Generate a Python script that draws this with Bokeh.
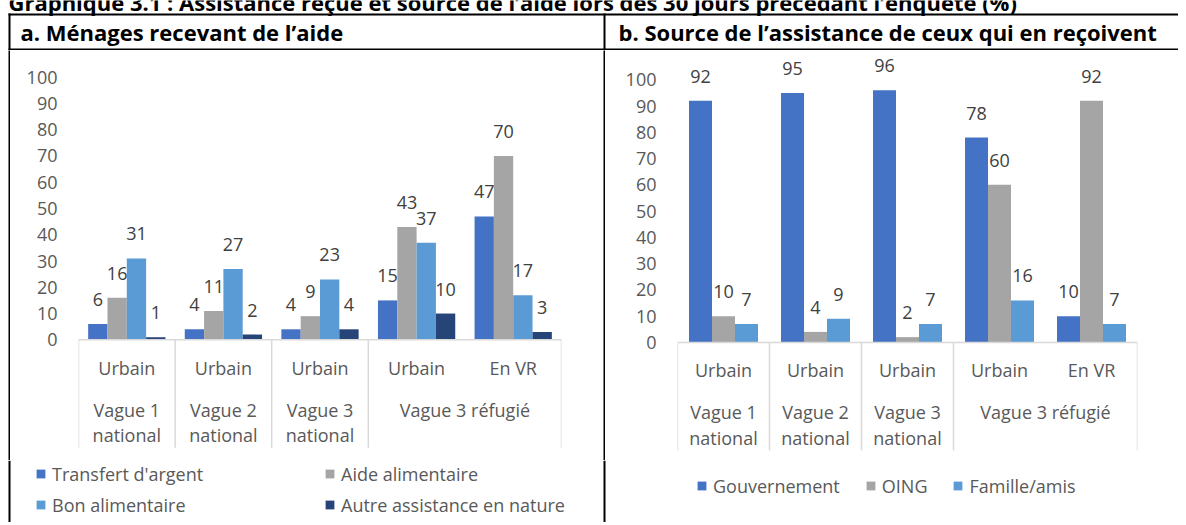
from bokeh.plotting import figure
from bokeh.models import (FactorRange, Range1d, ColumnDataSource, Legend, LegendItem,
                          FixedTicker, Spacer)
from bokeh.transform import dodge
from bokeh.layouts import column, row
from bokeh.core.properties import value
from bokeh.embed import file_html
from bokeh.resources import INLINE

# ---------------- data ----------------
title = "Graphique 3.1 : Assistance reçue et source de l’aide lors des 30 jours précédant l’enquête (%)"
header_a = "a. Ménages recevant de l’aide"
header_b = "b. Source de l’assistance de ceux qui en reçoivent"

groups = ["Vague 1 national", "Vague 2 national", "Vague 3 national", "Vague 3 réfugié"]
group_line1 = ["Vague 1", "Vague 2", "Vague 3", "Vague 3 réfugié"]
group_line2 = ["national", "national", "national", ""]
categories = [
    ("Vague 1 national", "Urbain"),
    ("Vague 2 national", "Urbain"),
    ("Vague 3 national", "Urbain"),
    ("Vague 3 réfugié", "Urbain"),
    ("Vague 3 réfugié", "En VR"),
]
y_ticks = [0, 10, 20, 30, 40, 50, 60, 70, 80, 90, 100]

a_series = ["Transfert d'argent", "Aide alimentaire", "Bon alimentaire", "Autre assistance en nature"]
transfert = [6, 4, 4, 15, 47]
aide = [16, 11, 9, 43, 70]
bon = [31, 27, 23, 37, 17]
autre = [1, 2, 4, 10, 3]
a_colors = ["#4472C4", "#A5A5A5", "#5B9BD5", "#264478"]

b_series = ["Gouvernement", "OING", "Famille/amis"]
gouvernement = [92, 95, 96, 78, 10]
oing = [10, 4, 2, 60, 92]
famille = [7, 9, 7, 16, 7]
b_colors = ["#4472C4", "#A5A5A5", "#5B9BD5"]

# ---------------- style / layout ----------------
FONT = "Open Sans"
TXT = "#595959"
LBL = "#404040"
SEP = "#D9D9D9"
FS = "18px"
HFS = "22px"

W = 1178          # stays inside the 1186 px window
HDR_H = 50
CHART_H = 410
LEG_H = 62        # total height 522, inside the 525 px window


def base_fig(width, height, left=0, right=0, top=0, bottom=0, **kw):
    return figure(width=width, height=height, output_backend="svg",
                  toolbar_location=None, outline_line_color=None,
                  min_border=0, min_border_left=left, min_border_right=right,
                  min_border_top=top, min_border_bottom=bottom,
                  background_fill_color="white", border_fill_color="white", **kw)


def make_chart(width, frame_left, frame_right, zero_px, hundred_px, names, series, colors):
    ppu = (zero_px - hundred_px) / 100.0
    y_start = -(CHART_H - zero_px) / ppu
    y_end = zero_px / ppu
    xr = FactorRange(factors=categories, factor_padding=0, group_padding=0,
                     subgroup_padding=0, range_padding=0)
    p = base_fig(width, CHART_H, left=frame_left, right=width - frame_right,
                 x_range=xr, y_range=Range1d(y_start, y_end), x_axis_type=None)
    p.ygrid.grid_line_color = None
    ax = p.yaxis[0]
    ax.ticker = FixedTicker(ticks=y_ticks)
    ax.bounds = (0, 100)
    ax.axis_line_color = None
    ax.major_tick_line_color = None
    ax.minor_tick_line_color = None
    ax.major_tick_out = 0
    ax.major_tick_in = 0
    ax.minor_tick_out = 0
    ax.major_label_standoff = 21
    ax.major_label_text_font = FONT
    ax.major_label_text_font_size = FS
    ax.major_label_text_color = TXT

    n = len(names)
    bw = 1.0 / (n + 1)
    data = dict(x=categories)
    for i, vals in enumerate(series):
        data[f"s{i}"] = vals
        data[f"l{i}"] = [str(v) for v in vals]
    src = ColumnDataSource(data)

    for i, col in enumerate(colors):
        off = (i - (n - 1) / 2.0) * bw
        p.vbar(x=dodge("x", off, range=xr), top=f"s{i}", width=bw, source=src,
               fill_color=col, line_color=None)
        p.text(x=dodge("x", off, range=xr), y=f"s{i}", text=f"l{i}", source=src,
               text_align="center", text_baseline="middle", y_offset=-24.5,
               text_font=value(FONT), text_font_size=FS, text_color=LBL)

    # category axis drawn on the factor range
    seps = []
    for g in groups:
        first = [c for c in categories if c[0] == g][0]
        seps.append((first[0], first[1], -0.5))
    seps.append((categories[-1][0], categories[-1][1], 0.5))
    sep_src = ColumnDataSource(dict(x=seps, y0=[0] * len(seps), y1=[-108 / ppu] * len(seps)))
    p.segment(x0="x", y0="y0", x1="x", y1="y1", source=sep_src,
              line_color=SEP, line_width=1.5)
    p.segment(x0=[(categories[0][0], categories[0][1], -0.5)], y0=[0],
              x1=[(categories[-1][0], categories[-1][1], 0.5)], y1=[0],
              line_color=SEP, line_width=1.5)

    cat_src = ColumnDataSource(dict(x=categories, t=[c[1] for c in categories]))
    p.text(x="x", y=0, text="t", source=cat_src, y_offset=27.7,
           text_align="center", text_baseline="middle",
           text_font=value(FONT), text_font_size=FS, text_color=TXT)
    grp_src = ColumnDataSource(dict(x=groups, l1=group_line1, l2=group_line2))
    p.text(x="x", y=0, text="l1", source=grp_src, y_offset=70,
           text_align="center", text_baseline="middle",
           text_font=value(FONT), text_font_size=FS, text_color=TXT)
    p.text(x="x", y=0, text="l2", source=grp_src, y_offset=95.3,
           text_align="center", text_baseline="middle",
           text_font=value(FONT), text_font_size=FS, text_color=TXT)
    return p


# header band (title cut at top, table rules, panel titles)
hdr = base_fig(W, HDR_H, x_range=Range1d(0, W), y_range=Range1d(HDR_H, 0),
               x_axis_type=None, y_axis_type=None)
hdr.segment(x0=[8, 8, 9, 604], y0=[14, 49, 13, 13], x1=[W, W, 9, 604], y1=[14, 49, HDR_H, HDR_H],
            line_color="black", line_width=2)
hdr.text(x=[8], y=[1], text=[title], text_baseline="alphabetic",
         text_font=value(FONT), text_font_style="bold", text_font_size=HFS, text_color="black")
hdr.text(x=[20, 618], y=[31, 31], text=[header_a, header_b], text_baseline="middle",
         text_font=value(FONT), text_font_style="bold", text_font_size=HFS, text_color="black")


def vline():
    return figure(width=2, height=CHART_H, x_axis_type=None, y_axis_type=None,
                  output_backend="svg", toolbar_location=None, min_border=0,
                  outline_line_color=None, background_fill_color="black",
                  border_fill_color="black")


c1 = make_chart(593, 68, 551, 289.3, 26.7, a_series, [transfert, aide, bon, autre], a_colors)
c2 = make_chart(573, 72, 532, 291.9, 29.3, b_series, [gouvernement, oing, famille], b_colors)

# legend band (both legends + continuation of the table rules)
leg = base_fig(W, LEG_H, x_range=Range1d(0, W), y_range=Range1d(0, LEG_H),
               x_axis_type=None, y_axis_type=None)
leg.quad(left=[8, 603], right=[10, 605], bottom=[0, 0], top=[LEG_H, LEG_H],
         fill_color="black", line_color=None)


def legend_items(names, colors):
    items = []
    for name, col in zip(names, colors):
        r = leg.vbar(x=[0], bottom=[0], top=[0], width=0, fill_color=col, line_color=None)
        items.append(LegendItem(label=name, renderers=[r]))
    return items


common = dict(margin=0, padding=0, glyph_width=11, glyph_height=11, label_standoff=6,
              label_height=25, border_line_color=None, background_fill_alpha=0,
              label_text_font=FONT, label_text_font_size=FS, label_text_color=TXT,
              orientation="horizontal")
leg.add_layout(Legend(items=legend_items(a_series, a_colors), location=(35, 5),
                      ncols=2, spacing=6, label_width=266, **common))
leg.add_layout(Legend(items=legend_items(b_series, b_colors), location=(696, 24),
                      spacing=25, **common))

layout = column(hdr,
                row(Spacer(width=8, height=CHART_H), vline(), c1, vline(), c2),
                leg)

open("out.html", "w").write(file_html(layout, INLINE))
